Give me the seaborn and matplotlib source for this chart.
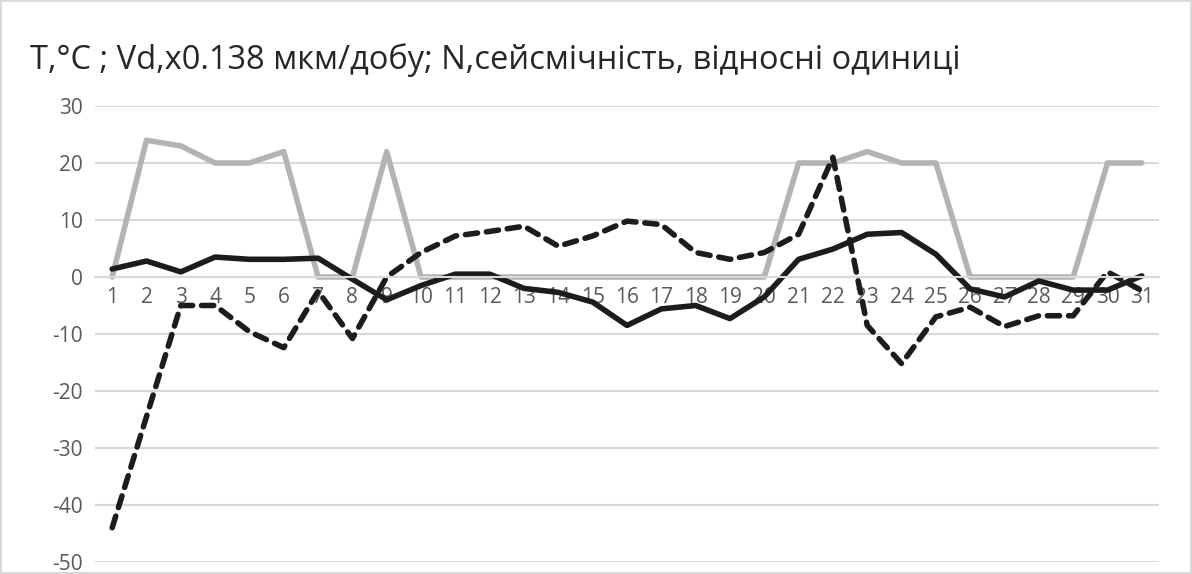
import pandas as pd
import matplotlib
matplotlib.use("Agg")
import matplotlib.pyplot as plt
import seaborn as sns

# Data
days = list(range(1, 32))
temp_t = [1.4, 2.8, 0.9, 3.5, 3.1, 3.1, 3.3, -0.4, -4.0, -1.5,
          0.5, 0.5, -2.0, -2.7, -4.4, -8.5, -5.6, -5.0, -7.3, -3.5,
          3.1, 4.9, 7.5, 7.8, 4.0, -2.1, -3.5, -0.7, -2.3, -2.3, 0.2]
vd = [-44, -24.5, -5, -5, -9.6, -12.4, -2.5, -10.8, 0, 4.3,
      7.2, 8, 8.9, 5.4, 7.2, 9.8, 9.2, 4.3, 3.1, 4.3,
      7.5, 21, -8.5, -15.2, -7, -5.3, -8.7, -6.8, -6.8, 0.9, -2.4]
seism_n = [0, 24, 23, 20, 20, 22, 0, 0, 22, 0,
           0, 0, 0, 0, 0, 0, 0, 0, 0, 0,
           20, 20, 22, 20, 20, 0, 0, 0, 0, 20, 20]
y_ticks = [30, 20, 10, 0, -10, -20, -30, -40, -50]
title = "T,°C ; Vd,x0.138 мкм/добу; N,сейсмічність, відносні одиниці"

df = pd.DataFrame({"day": days, "T": temp_t, "Vd": vd, "N": seism_n})

sns.set_style("white")
plt.rcParams['font.family'] = ['Open Sans', 'DejaVu Sans']
plt.rcParams['axes.unicode_minus'] = False

fig = plt.figure(figsize=(11.92, 5.74), dpi=100)
fig.patch.set_edgecolor("#d9d9d9")
fig.patch.set_linewidth(1.5)
ax = fig.add_axes([0.0797, 0.021, 0.8926, 0.7943])

sns.lineplot(data=df, x="day", y="N", ax=ax, color="#b3b3b6", lw=4.0)
sns.lineplot(data=df, x="day", y="T", ax=ax, color="#1c1c1c", lw=4.0)
line_vd = sns.lineplot(data=df, x="day", y="Vd", ax=ax, color="#1c1c1c", lw=4.0).lines[-1]
line_vd.set_dashes((2.2, 1.6))
line_vd.set_dash_capstyle("round")

ax.set_xlim(0.5, 31.5)
ax.set_ylim(-50, 30)
ax.set_yticks(y_ticks)
ax.set_xticks(days)
ax.set_xticklabels([str(d) for d in days])
ax.grid(axis="y", color="#d9d9d9", lw=1.5)
ax.set_axisbelow(True)
for s in ["top", "right", "left"]:
    ax.spines[s].set_visible(False)
ax.spines["bottom"].set_position(("data", 0))
ax.spines["bottom"].set_color("#d9d9d9")
ax.spines["bottom"].set_linewidth(1.5)
ax.tick_params(axis="both", length=0, labelsize=15, labelcolor="#595959")
ax.tick_params(axis="x", pad=7)
ax.tick_params(axis="y", pad=9)
ax.set_xlabel("")
ax.set_ylabel("")

fig.text(0.025, 0.895, title, fontsize=23.5, color="#262626", va="center", ha="left")

plt.savefig("out.png", dpi=100)
plt.close()
